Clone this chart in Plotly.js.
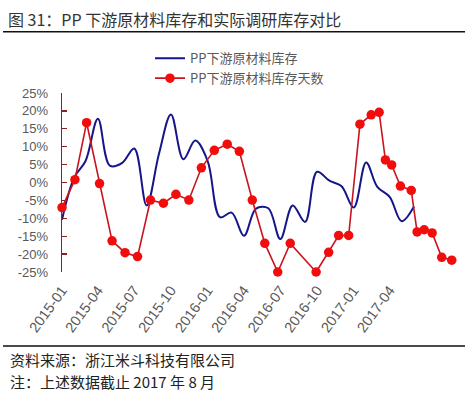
<!DOCTYPE html>
<html>
<head>
<meta charset="utf-8">
<script src="https://cdn.plot.ly/plotly-3.0.1.min.js"></script>
<style>
  html, body { margin: 0; padding: 0; background: #ffffff; }
  #chart { width: 467px; height: 399px; }
</style>
</head>
<body>
<div id="chart"></div>
<script>
// ---------- data ----------
const seriesNames = ['PP下游原材料库存', 'PP下游原材料库存天数'];

// PP下游原材料库存 (monthly, %)
const invDates = ['2015-01-01','2015-02-01','2015-03-01','2015-04-01','2015-05-01','2015-06-01',
  '2015-07-01','2015-08-01','2015-09-01','2015-10-01','2015-11-01','2015-12-01',
  '2016-01-01','2016-02-01','2016-03-01','2016-04-01','2016-05-01','2016-06-01',
  '2016-07-01','2016-08-01','2016-09-01','2016-10-01','2016-11-01','2016-12-01',
  '2017-01-01','2017-02-01','2017-03-01','2017-04-01','2017-05-01','2017-06-01'];
const invValues = [-10.4, 1.5, 6.0, 17.8, 4.7, 5.5,
  9.5, -6.4, 8.0, 19.0, 6.5, 11.7,
  6.0, -9.7, -8.4, -14.9, -7.3, -7.2,
  -15.8, -6.4, -11.0, 3.0, 0.5, -1.0,
  -7.0, 5.6, -1.2, -4.0, -10.8, -6.7];

// PP下游原材料库存天数 (survey dates, %)
const dayDates = ['2015-01-01','2015-02-01','2015-03-01','2015-04-01','2015-05-01','2015-06-01',
  '2015-07-01','2015-08-01','2015-09-01','2015-10-01','2015-11-01','2015-12-01',
  '2016-01-01','2016-02-01','2016-03-01','2016-04-01','2016-05-01','2016-06-01',
  '2016-07-01','2016-09-01','2016-10-01','2016-10-25','2016-11-18','2016-12-15',
  '2017-01-11','2017-01-30','2017-02-14','2017-03-01','2017-03-22','2017-04-17',
  '2017-05-01','2017-05-18','2017-06-06','2017-06-29','2017-07-23'];
const dayValues = [-7.0, 0.8, 16.7, -0.3, -16.3, -19.6,
  -20.7, -4.9, -5.8, -3.3, -4.9, 4.1,
  9.0, 10.7, 8.7, -4.9, -17.0, -25.0,
  -17.0, -25.0, -19.5, -14.8, -14.8, 16.3,
  18.9, 19.6, 6.3, 4.9, -1.0, -2.2,
  -13.8, -13.2, -14.1, -20.9, -21.7];

const yTickVals = [25, 20, 15, 10, 5, 0, -5, -10, -15, -20, -25];
const yTickText = ['25%', '20%', '15%', '10%', '5%', '0%', '-5%', '-10%', '-15%', '-20%', '-25%'];

const titleText = '图 31：PP 下游原材料库存和实际调研库存对比';
const sourceText = '资料来源：浙江米斗科技有限公司';
const noteText = '注：上述数据截止 2017 年 8 月';

// ---------- geometry helpers ----------
const W = 467, H = 399;
const PL = 62, PR = 458, PT = 92.5, PB = 272.5;
const fx = x => (x - PL) / (PR - PL);
const fy = y => (PB - y) / (PB - PT);

const numFont = '"Liberation Sans", Arial, "Noto Sans CJK SC", sans-serif';
const cjkFont = '"Noto Sans CJK SC", "Noto Sans", sans-serif';
const axisRed = '#8B2323';

const traces = [
  {
    type: 'scatter', mode: 'lines', name: seriesNames[0],
    x: invDates, y: invValues, xaxis: 'x', yaxis: 'y',
    line: { color: '#15168A', width: 2, shape: 'spline', smoothing: 1 },
    hoverinfo: 'skip'
  },
  {
    type: 'scatter', mode: 'lines+markers', name: seriesNames[1],
    x: dayDates, y: dayValues, xaxis: 'x2', yaxis: 'y',
    line: { color: '#C8141E', width: 1.6 },
    marker: { color: '#F20D0D', size: 9.5 },
    cliponaxis: false,
    hoverinfo: 'skip'
  }
];

const layout = {
  width: W, height: H,
  margin: { l: PL, r: W - PR, t: PT, b: H - PB, pad: 0 },
  paper_bgcolor: '#ffffff',
  plot_bgcolor: 'rgba(0,0,0,0)',
  showlegend: true,
  title: {
    text: titleText,
    x: 8 / W, xref: 'container', xanchor: 'left',
    y: 1 - 20 / H, yref: 'container', yanchor: 'middle',
    font: { family: cjkFont, size: 16, color: '#333333' }
  },
  legend: {
    x: fx(150), y: fy(42.5), xanchor: 'left', yanchor: 'top',
    bgcolor: 'rgba(0,0,0,0)',
    font: { family: cjkFont, size: 13, color: '#595959' },
    traceorder: 'normal'
  },
  xaxis: {
    type: 'date', domain: [0, fx(416)],
    range: ['2015-01-01', '2017-06-06'],
    tick0: '2015-01-01', dtick: 'M3', tickformat: '%Y-%m',
    tickangle: -54, ticks: '', showline: false, showgrid: false, zeroline: false,
    tickfont: { family: numFont, size: 14.5, color: '#595959' },
    anchor: 'y', ticklabelstandoff: 6
  },
  xaxis3: {
    type: 'date', overlaying: 'x', side: 'top', anchor: 'y',
    range: ['2015-01-01', '2017-06-06'],
    tick0: '2015-01-01', dtick: 'M3',
    showline: true, linecolor: '#D9D9D9', linewidth: 1,
    ticks: 'inside', ticklen: 4, tickcolor: '#D9D9D9',
    showticklabels: false, showgrid: false, zeroline: false
  },
  xaxis2: {
    type: 'date', domain: [0, 1], anchor: 'y',
    range: ['2015-01-01', '2017-08-07'],
    visible: false
  },
  yaxis: {
    range: [-25, 25], tickvals: yTickVals, ticktext: yTickText,
    ticks: 'inside', ticklen: 5, tickcolor: axisRed, tickwidth: 1.3,
    showline: true, linecolor: axisRed, linewidth: 1.3,
    showgrid: false, zeroline: false, anchor: 'x',
    tickfont: { family: numFont, size: 13, color: '#595959' },
    ticklabelstandoff: 10
  },
  shapes: [
    { type: 'line', xref: 'paper', yref: 'paper', x0: fx(3), x1: fx(465), y0: fy(31), y1: fy(31),
      line: { color: '#111111', width: 1.5 } },
    { type: 'line', xref: 'paper', yref: 'paper', x0: fx(3), x1: fx(465), y0: fy(347), y1: fy(347),
      line: { color: '#111111', width: 1.5 } }
  ],
  annotations: [
    { text: sourceText, xref: 'paper', yref: 'paper', x: fx(8), y: fy(360.5),
      xanchor: 'left', yanchor: 'middle', showarrow: false,
      font: { family: cjkFont, size: 15, color: '#222222' } },
    { text: noteText, xref: 'paper', yref: 'paper', x: fx(8), y: fy(382.5),
      xanchor: 'left', yanchor: 'middle', showarrow: false,
      font: { family: cjkFont, size: 15, color: '#222222' } }
  ]
};

Plotly.newPlot('chart', traces, layout, { staticPlot: true, displayModeBar: false });
</script>
</body>
</html>
